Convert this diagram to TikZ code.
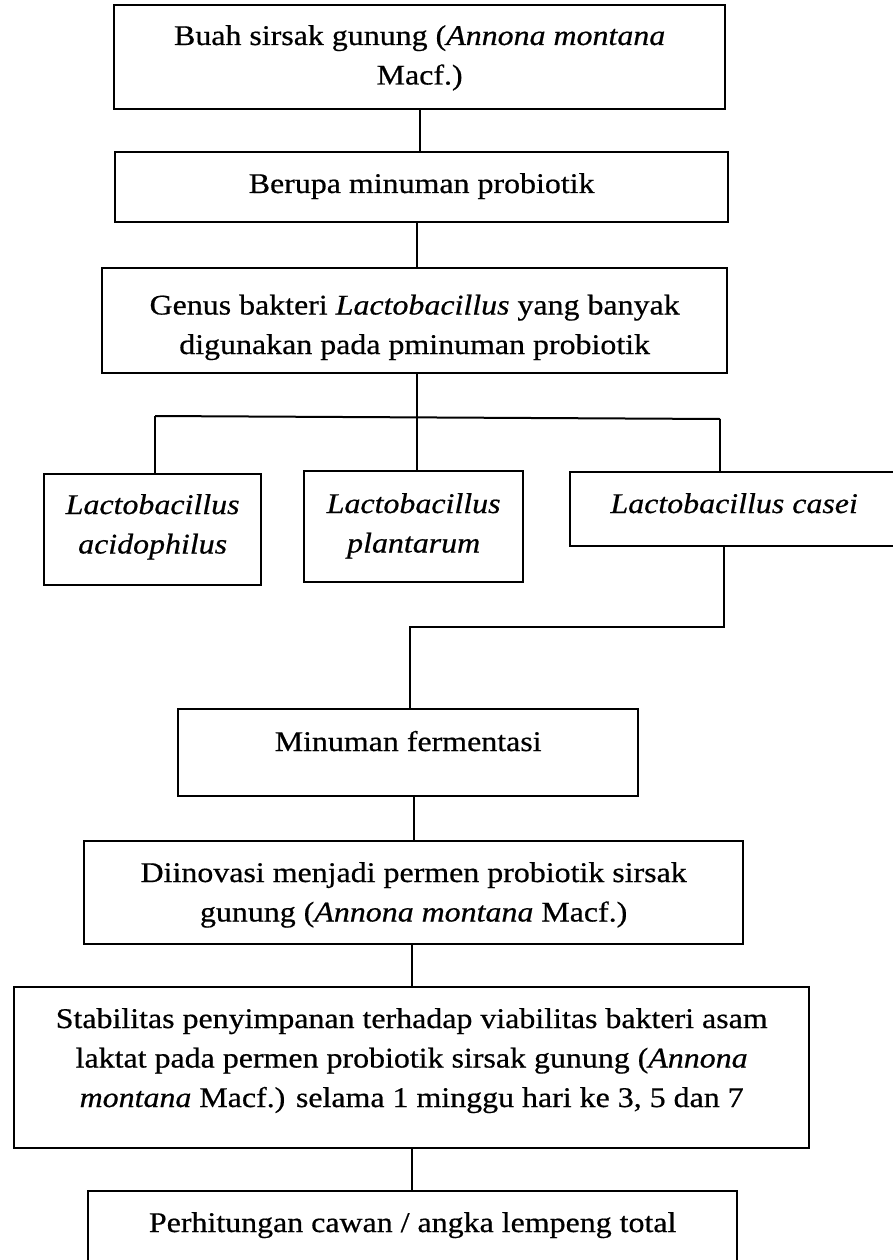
\documentclass[tikz,border=0pt]{standalone}
\usepackage{fontspec}
\setmainfont[FakeStretch=1.12, FakeBold=0.6]{Liberation Serif}
\usetikzlibrary{positioning}

\tikzset{
  kotak/.style={draw, line width=2.3pt, anchor=north west, inner sep=0pt},
  teks/.style={anchor=base, align=center, inner sep=0pt,
               font=\fontsize{28.5}{39.5}\selectfont},
  garis/.style={line width=2pt}
}

\begin{document}
\begin{tikzpicture}[x=1pt, y=-1pt]
    \useasboundingbox (0,0) rectangle (892,1260);
    % kotak
    \node[kotak, minimum width=611pt, minimum height=104pt] (buah) at (113,4) {};
    \node[teks] (tbuah) at ([yshift=-80.5pt]buah.north)
      {Buah sirsak gunung (\textit{Annona montana}\\Macf.)};
    \node[kotak, minimum width=613pt, minimum height=70pt] (minum) at (114,151) {};
    \node[teks] (tminum) at ([yshift=-42pt]minum.north) {Berupa minuman probiotik};
    \node[kotak, minimum width=625pt, minimum height=105pt] (genus) at (101,267) {};
    \node[teks] (tgenus) at ([yshift=-87pt]genus.north)
      {Genus bakteri \textit{Lactobacillus} yang banyak\\digunakan pada pminuman probiotik};
    \node[kotak, minimum width=217pt, minimum height=111pt] (acido) at (43,473) {};
    \node[teks] (tacido) at ([yshift=-80.5pt]acido.north)
      {\textit{Lactobacillus}\\\textit{acidophilus}};
    \node[kotak, minimum width=219pt, minimum height=111pt] (planta) at (303,470) {};
    \node[teks] (tplanta) at ([yshift=-82.5pt]planta.north)
      {\textit{Lactobacillus}\\\textit{plantarum}};
    \node[kotak, minimum width=328pt, minimum height=74pt] (casei) at (569,471) {};
    \node[teks] (tcasei) at ([yshift=-42pt]casei.north) {\textit{Lactobacillus casei}};
    \node[kotak, minimum width=460pt, minimum height=87pt] (ferment) at (177,708) {};
    \node[teks] (tferment) at ([yshift=-43pt]ferment.north) {Minuman fermentasi};
    \node[kotak, minimum width=659pt, minimum height=103pt] (inov) at (83,840) {};
    \node[teks] (tinov) at ([yshift=-81.5pt]inov.north)
      {Diinovasi menjadi permen probiotik sirsak\\gunung (\textit{Annona montana} Macf.)};
    \node[kotak, minimum width=795pt, minimum height=161pt] (stabil) at (13,986) {};
    \node[teks] (tstabil) at ([yshift=-121pt]stabil.north)
      {Stabilitas penyimpanan terhadap viabilitas bakteri asam\\
       laktat pada permen probiotik sirsak gunung (\textit{Annona}\\
       \textit{montana} Macf.) selama 1 minggu hari ke 3, 5 dan 7};
    \node[kotak, minimum width=649pt, minimum height=90pt] (hitung) at (87,1190) {};
    \node[teks] (thitung) at ([yshift=-42pt]hitung.north)
      {Perhitungan cawan / angka lempeng total};

    % garis penghubung
    \coordinate (cabang) at (417,418);
    \coordinate (kiri) at (155,416);
    \coordinate (kanan) at (720,419);
    \coordinate (belok) at (410,627);
    \coordinate (turun) at ([xshift=-10pt]casei.south);
    \draw[garis] (buah.south) -- (buah.south |- minum.north);
    \draw[garis] ([xshift=-5pt]minum.south) -- ([xshift=-5pt]minum.south |- genus.north);
    \draw[garis] (genus.south -| cabang) -- (cabang);
    \draw[garis] (kiri) -- (kanan);
    \draw[garis] (kiri) -- (kiri |- acido.north);
    \draw[garis] (cabang) -- (cabang |- planta.north);
    \draw[garis] (kanan) -- (kanan |- casei.north);
    \draw[garis] (turun) |- (belok) -- (belok |- ferment.north);
    \draw[garis] (inov.north |- ferment.south) -- (inov.north);
    \draw[garis] (stabil.north |- inov.south) -- (stabil.north);
    \draw[garis] (stabil.south) -- (stabil.south |- hitung.north);
\end{tikzpicture}
\end{document}
